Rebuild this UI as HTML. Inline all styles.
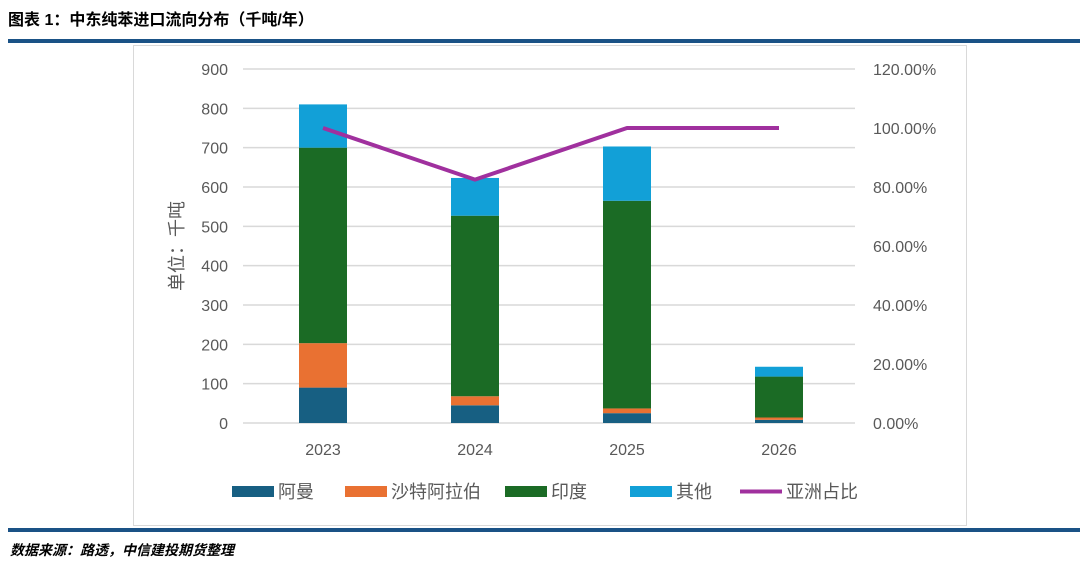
<!DOCTYPE html>
<html><head><meta charset="utf-8"><style>
body{margin:0;width:1080px;height:564px;background:#fff;position:relative;overflow:hidden;font-family:"Liberation Sans","Noto Sans CJK SC",sans-serif}
.t{position:absolute;left:8px;top:6px;font-size:16px;font-weight:bold;color:#000}
.rule{position:absolute;left:8px;width:1072px;height:4px;background:#1a5286}
.src{position:absolute;left:10px;top:540px;font-size:14px;font-weight:bold;font-style:italic}
</style></head><body>
<div class="t">图表 1：中东纯苯进口流向分布（千吨/年）</div>
<div class="rule" style="top:39px"></div>
<div class="rule" style="top:528px"></div>
<div class="src">数据来源：路透，中信建投期货整理</div>
<svg id="c" width="1080" height="564" style="position:absolute;left:0;top:0"></svg>
<script>
const categories=["2023","2024","2025","2026"];
const oman=[90,45,25,8];
const saudi=[113,23,12,6];
const india=[497,459,528,104];
const other=[110,96,138,25];
const asiaShare=[1.0,0.825,1.0,1.0];
const leftTicks=[0,100,200,300,400,500,600,700,800,900];
const rightTicks=[0,0.2,0.4,0.6,0.8,1.0,1.2];
const series=[["阿曼",oman,"#175f82"],["沙特阿拉伯",saudi,"#e97132"],["印度",india,"#1b6b25"],["其他",other,"#12a0d7"]];
const NS="http://www.w3.org/2000/svg",svg=document.getElementById('c');
function el(t,a,p){const e=document.createElementNS(NS,t);for(const k in a)e.setAttribute(k,a[k]);(p||svg).appendChild(e);return e;}
const x0=247,x1=855,yB=423,yT=69;
const y=v=>yB-(v/900)*(yB-yT);
const yr=v=>yB-(v/1.2)*(yB-yT);
const band=(x1-x0)/categories.length;
const xc=i=>x0+band*(i+0.5);
const box=el('rect',{x:133.5,y:45.5,width:833,height:480,fill:'none',stroke:'#d9d9d9'});


leftTicks.forEach(v=>{
 const g=el('line',{x1:243,x2:x1,y1:y(v),y2:y(v),stroke:'#d9d9d9','stroke-width':1.5});
 
 
 const t=el('text',{x:228,y:y(v)+6,'text-anchor':'end','font-size':16,fill:'#595959'});t.textContent=v;
 
 
});
rightTicks.forEach(v=>{
 const t=el('text',{x:873,y:yr(v)+6,'font-size':16,fill:'#595959'});t.textContent=(v*100).toFixed(2)+'%';
 
 
});
const yl=el('text',{x:0,y:0,'font-size':18,fill:'#595959','text-anchor':'middle',transform:'translate(183,246) rotate(-90)'});yl.textContent='单位：千吨';


categories.forEach((c,i)=>{
 let acc=0;
 series.forEach(s=>{
  const v=s[1][i];
  const r=el('rect',{x:xc(i)-24,y:y(acc+v),width:48,height:y(acc)-y(acc+v),fill:s[2]});
  
  
  acc+=v;
 });
 const t=el('text',{x:xc(i),y:455,'text-anchor':'middle','font-size':16,fill:'#595959'});t.textContent=c;
 
 
});
const pl=el('polyline',{points:asiaShare.map((v,i)=>xc(i)+','+yr(v)).join(' '),fill:'none',stroke:'#a0309e','stroke-width':4,'stroke-linejoin':'round'});


const leg=[["阿曼","#175f82",232],["沙特阿拉伯","#e97132",345],["印度","#1b6b25",505],["其他","#12a0d7",630]];
leg.forEach(l=>{
 const r=el('rect',{x:l[2],y:486,width:42,height:11,fill:l[1]});
 
 
 const t=el('text',{x:l[2]+46,y:498,'font-size':18,fill:'#595959'});t.textContent=l[0];
 
 
});
const ll=el('line',{x1:740,x2:782,y1:491.5,y2:491.5,stroke:'#a0309e','stroke-width':4});


const lt=el('text',{x:786,y:498,'font-size':18,fill:'#595959'});lt.textContent='亚洲占比';


</script>
</body></html>
